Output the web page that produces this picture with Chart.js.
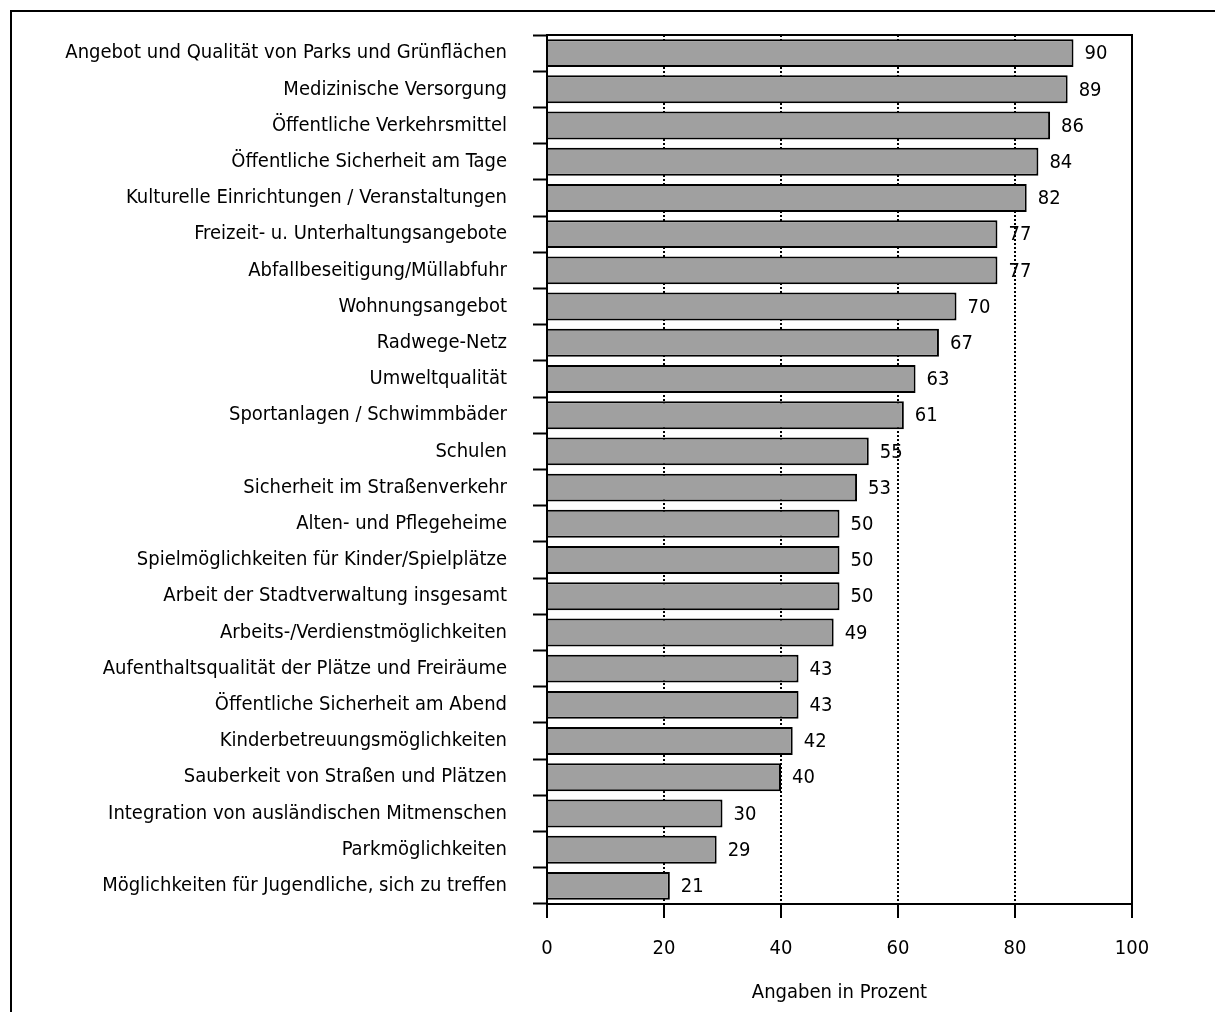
<!DOCTYPE html>
<html>
<head>
<meta charset="utf-8">
<script src="https://cdn.jsdelivr.net/npm/chart.js@4"></script>
<style>
  body{margin:0;background:#fff;}
  #frame{position:absolute;left:10px;top:10px;width:1300px;height:1100px;border:2px solid #000;}
  #wrap{position:absolute;left:0;top:0;width:1215px;height:1012px;}
</style>
</head>
<body>
<div id="frame"></div>
<div id="wrap"><canvas id="barChart"></canvas></div>
<script>
const categories=[
  'Angebot und Qualität von Parks und Grünflächen',
  'Medizinische Versorgung',
  'Öffentliche Verkehrsmittel',
  'Öffentliche Sicherheit am Tage',
  'Kulturelle Einrichtungen / Veranstaltungen',
  'Freizeit- u. Unterhaltungsangebote',
  'Abfallbeseitigung/Müllabfuhr',
  'Wohnungsangebot',
  'Radwege-Netz',
  'Umweltqualität',
  'Sportanlagen / Schwimmbäder',
  'Schulen',
  'Sicherheit im Straßenverkehr',
  'Alten- und Pflegeheime',
  'Spielmöglichkeiten für Kinder/Spielplätze',
  'Arbeit der Stadtverwaltung insgesamt',
  'Arbeits-/Verdienstmöglichkeiten',
  'Aufenthaltsqualität der Plätze und Freiräume',
  'Öffentliche Sicherheit am Abend',
  'Kinderbetreuungsmöglichkeiten',
  'Sauberkeit von Straßen und Plätzen',
  'Integration von ausländischen Mitmenschen',
  'Parkmöglichkeiten',
  'Möglichkeiten für Jugendliche, sich zu treffen'
]
const values=[90,89,86,84,82,77,77,70,67,63,61,55,53,50,50,50,49,43,43,42,40,30,29,21]
const xTicks=[0,20,40,60,80,100]
const axisTitle='Angaben in Prozent'

const fontFamily="'DejaVu Sans Condensed',sans-serif"
Chart.defaults.font.family=fontFamily
Chart.defaults.font.size=20
Chart.defaults.color='#000'

// values next to bar ends, plus top/right frame of the plot area
const extras={
  id:'extras',
  afterDatasetsDraw(chart){
    const {ctx,chartArea}=chart
    const meta=chart.getDatasetMeta(0)
    ctx.save()
    ctx.fillStyle='#000'
    ctx.font='20px '+fontFamily
    ctx.textBaseline='middle'
    ctx.textAlign='left'
    meta.data.forEach((bar,i)=>{
      ctx.fillText(String(values[i]),bar.x+11,bar.y+1)
    })
    ctx.strokeStyle='#000'
    ctx.lineWidth=2
    ctx.beginPath()
    ctx.moveTo(chartArea.left,chartArea.top)
    ctx.lineTo(chartArea.right,chartArea.top)
    ctx.lineTo(chartArea.right,chartArea.bottom)
    ctx.stroke()
    ctx.restore()
  }
}

const ctx1=document.getElementById('barChart')
new Chart(ctx1,{
  type:'bar',
  data:{
    labels:categories,
    datasets:[{
      data:values,
      backgroundColor:'#a0a0a0',
      borderColor:'#000',
      borderWidth:2,
      barPercentage:0.77,
      categoryPercentage:1
    }]
  },
  plugins:[extras],
  options:{
    indexAxis:'y',
    responsive:true,
    maintainAspectRatio:false,
    animation:false,
    layout:{padding:{top:35,right:83,left:0,bottom:0}},
    plugins:{legend:{display:false},tooltip:{enabled:false}},
    scales:{
      x:{
        min:0,
        max:100,
        afterBuildTicks(scale){scale.ticks=xTicks.map(v=>({value:v}))},
        afterFit(scale){scale.height=108;scale.paddingLeft=0;scale.paddingRight=0},
        border:{display:true,color:'#000',width:2,dash:[2,2]},
        grid:{
          drawOnChartArea:true,
          drawTicks:true,
          tickLength:14,
          lineWidth:2,
          color:(c)=>(c.tick&&(c.tick.value===0||c.tick.value===100))?'rgba(0,0,0,0)':'#000',
          tickColor:'#000',
          tickWidth:2,
          tickBorderDash:[0,0]
        },
        ticks:{padding:19,color:'#000',font:{size:20}},
        title:{display:true,text:axisTitle,color:'#000',font:{size:20},padding:{top:0,bottom:7}}
      },
      y:{
        afterFit(scale){scale.width=547;scale.paddingTop=0;scale.paddingBottom=0},
        border:{display:true,color:'#000',width:2},
        grid:{
          offset:true,
          drawOnChartArea:false,
          drawTicks:true,
          tickLength:14,
          tickColor:'#000',
          tickWidth:2
        },
        ticks:{padding:26,color:'#000',font:{size:20},autoSkip:false}
      }
    }
  }
})
</script>
</body>
</html>
